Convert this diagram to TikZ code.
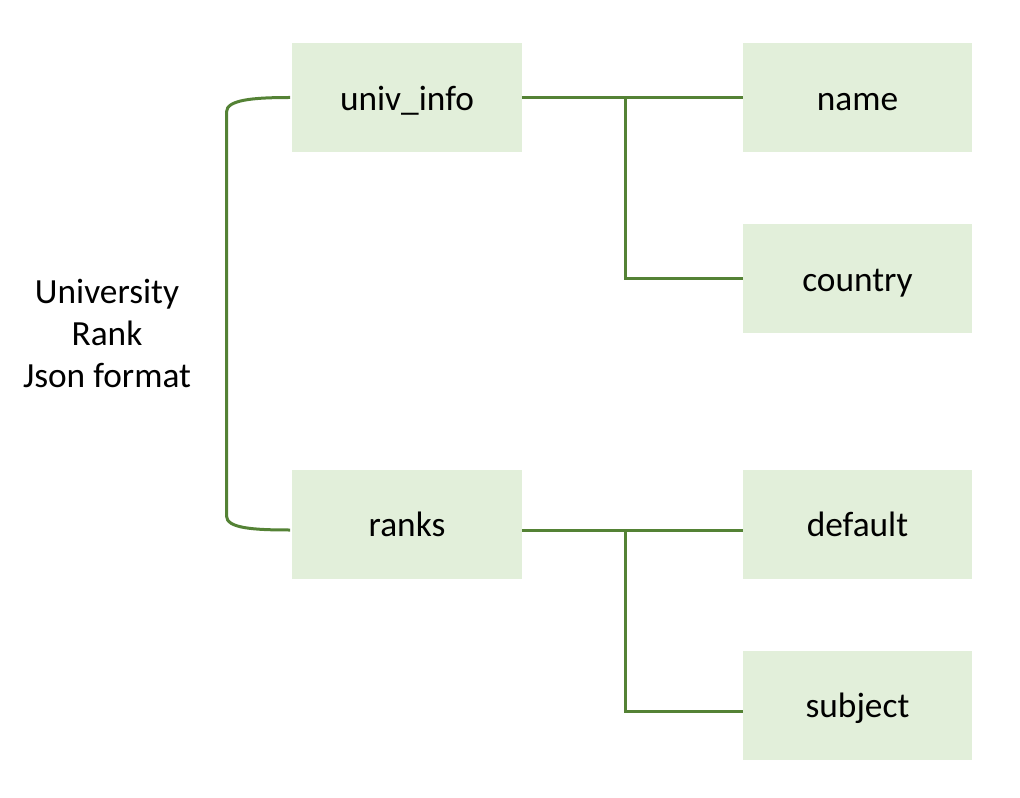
\documentclass[tikz,border=0pt]{standalone}
\usepackage{fontspec}
\setmainfont{Carlito}
\definecolor{boxfill}{HTML}{E2EFDA}
\definecolor{linegreen}{HTML}{548235}
\begin{document}
\begin{tikzpicture}[x=0.75pt,y=-0.75pt,
  field/.style={fill=boxfill,draw=none,minimum width=172pt,minimum height=81.75pt,inner sep=0pt,text height=18.8pt,text depth=0pt,font=\fontsize{26.5}{31.5}\selectfont},
  link/.style={draw=linegreen,line width=2.25pt},
  label/.style={align=center,font=\fontsize{26.5}{31.5}\selectfont}]
\useasboundingbox (0,0) rectangle (1020,798);
\node[field] (univ) at (407,97.5) {univ\_info};
\node[field] (ranks) at (407,524) {ranks};
\node[field] (name) at (857.5,97.5) {name};
\node[field] (country) at (857.5,278.5) {country};
\node[field] (default) at (857.5,524) {default};
\node[field] (subject) at (857.5,705) {subject};
\node[label] (title) at (107,333) {University\\Rank\\Json format};
\coordinate (j1) at (625.5,97.5);
\coordinate (j2) at (625.5,530);
\coordinate (rk) at ([yshift=-4.5pt]ranks.east);
\coordinate (rw) at ([xshift=-1.5pt,yshift=-4.5pt]ranks.west);
\coordinate (df) at ([yshift=-4.5pt]default.west);
\coordinate (sb) at ([yshift=-4.5pt]subject.west);
% top group
\draw[link] (univ.east) -- (name.west);
\draw[link] (j1) -- (j1 |- country.west) -- (country.west);
% bottom group
\draw[link] (rk) -- (df);
\draw[link] (j2) -- (j2 |- sb) -- (sb);
% bracket
\draw[link] ([xshift=-1.5pt]univ.west) .. controls (252,97.5) and (226.5,100) .. (226.5,112)
  -- (226.5,516) .. controls (226.5,528) and (252,530) .. (rw);
\end{tikzpicture}
\end{document}
